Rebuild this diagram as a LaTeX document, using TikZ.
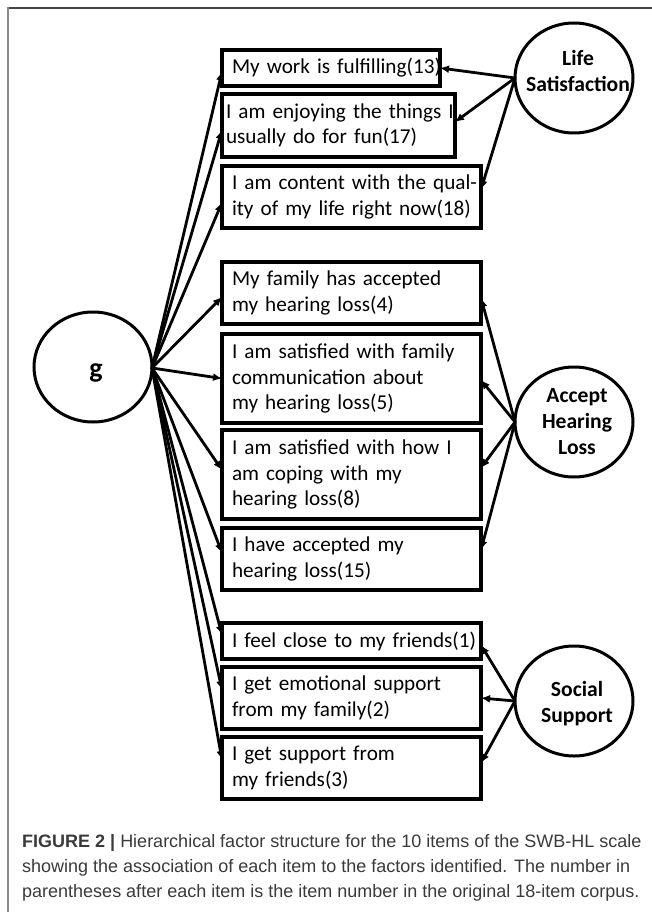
\documentclass[tikz,border=0pt]{standalone}
\usepackage{fontspec}
\setmainfont{Carlito}
\newfontfamily\capfont{Liberation Sans}
\usetikzlibrary{arrows.meta,shapes.geometric,calc}
\definecolor{capgray}{HTML}{3A3A3A}
\definecolor{framedark}{HTML}{444444}
\definecolor{framelight}{HTML}{8A8A8A}
\newcommand\itl[1]{\mbox{#1}}
\hbadness=10000
\hfuzz=300pt
\tikzset{
  itembox/.style={draw, rectangle, line width=3.1pt, anchor=north west, outer sep=0pt,
    inner xsep=10pt, inner ysep=0pt, align=left,
    font=\fontsize{21.2}{25.5}\selectfont},
  factor/.style={draw, ellipse, line width=3pt, minimum width=118pt, minimum height=110pt,
    inner sep=0pt, outer sep=0pt},
  factorlabel/.style={align=center, inner sep=0pt, font=\bfseries\fontsize{21.6}{26}\selectfont},
  arr/.style={line width=2.8pt, -{Latex[length=9pt,width=8pt]}},
  capline/.style={anchor=base west, inner sep=0pt, text=capgray,
    font=\capfont\fontsize{18}{25}\selectfont},
}
\begin{document}
\begin{tikzpicture}[x=1pt,y=-1pt]
\useasboundingbox (0,0) rectangle (652,912);
% frame
\draw[line width=1.5pt, framedark] (6.7,8.2) -- (652,8.2);
\draw[line width=2pt, framelight] (7.7,7.5) -- (7.7,912);

% item boxes (width = text width + 2 inner xsep)
\node[itembox, text width=198pt, minimum height=36pt] (b1) at (222,50) {\itl{My work is fulfilling(13)}};
\node[itembox, inner xsep=4pt, text width=225pt, minimum height=63pt] (b2) at (222,94) {\itl{I am enjoying the things I}\\\itl{usually do for fun(17)}};
\node[itembox, text width=239pt, minimum height=62pt] (b3) at (222,166) {\itl{I am content with the qual-}\\\itl{ity of my life right now(18)}};
\node[itembox, text width=239pt, minimum height=62pt] (b4) at (222,262) {\itl{My family has accepted}\\\itl{my hearing loss(4)}};
\node[itembox, text width=239pt, minimum height=89pt] (b5) at (222,334) {\itl{I am satisfied with family}\\\itl{communication about}\\\itl{my hearing loss(5)}};
\node[itembox, text width=239pt, minimum height=89pt] (b6) at (222,430) {\itl{I am satisfied with how I}\\\itl{am coping with my}\\\itl{hearing loss(8)}};
\node[itembox, text width=239pt, minimum height=62pt] (b7) at (222,528) {\itl{I have accepted my}\\\itl{hearing loss(15)}};
\node[itembox, text width=239pt, minimum height=36pt] (b8) at (222,623) {\itl{I feel close to my friends(1)}};
\node[itembox, text width=239pt, minimum height=62pt] (b9) at (222,667) {\itl{I get emotional support}\\\itl{from my family(2)}};
\node[itembox, text width=239pt, minimum height=62pt] (b10) at (222,737) {\itl{I get support from}\\\itl{my friends(3)}};

% factors
\node[factor] (g) at (93,367) {};
\node[inner sep=0pt, font=\bfseries\fontsize{28}{30}\selectfont] (gl) at (96,373) {g};
\node[factor] (ls) at (574,78) {};
\node[factorlabel] (lsl) at (578,71) {Life\\Satisfaction};
\node[factor] (ah) at (574,422) {};
\node[factorlabel] (ahl) at (577,422) {Accept\\Hearing\\Loss};
\node[factor] (ss) at (574,701) {};
\node[factorlabel] (ssl) at (577,704) {Social\\Support};

% general factor arrows
\coordinate (gsrc) at (152,368);
\draw[arr] (gsrc) -- ($(b1.west)+(0,3.5)$);
\draw[arr] (gsrc) -- ($(b2.west)+(0,4.5)$);
\draw[arr] (gsrc) -- ($(b3.west)+(0,5.5)$);
\draw[arr] (gsrc) -- ($(b4.west)+(0,4)$);
\draw[arr] (gsrc) -- ($(b5.west)+(0,0)$);
\draw[arr] (gsrc) -- ($(b6.west)+(0,-4.5)$);
\draw[arr] (gsrc) -- ($(b7.west)+(0,-6)$);
\draw[arr] (gsrc) -- ($(b8.west)+(0,-6)$);
\draw[arr] (gsrc) -- ($(b9.west)+(0,-8)$);
\draw[arr] (gsrc) -- ($(b10.west)+(0,-8)$);

% specific factor arrows
\draw[arr] (ls.west) -- ($(b1.east)+(0,0)$);
\draw[arr] (ls.west) -- ($(b2.east)+(0,-3.5)$);
\draw[arr] (ls.west) -- ($(b3.east)+(0,-7.5)$);
\draw[arr] (ah.west) -- ($(b4.east)+(0,5)$);
\draw[arr] (ah.west) -- ($(b5.east)+(0,1.5)$);
\draw[arr] (ah.west) -- ($(b6.east)+(0,-6.5)$);
\draw[arr] (ah.west) -- ($(b7.east)+(0,-9)$);
\draw[arr] (ss.west) -- ($(b8.east)+(0,4)$);
\draw[arr] (ss.west) -- ($(b9.east)+(0,0)$);
\draw[arr] (ss.west) -- ($(b10.east)+(0,-5)$);

% caption
\node[capline] (cap1) at (22,847) {\textbf{FIGURE 2 |} Hierarchical factor structure for the 10 items of the SWB-HL scale};
\node[capline] (cap2) at (22,872) {showing the association of each item to the factors identified. The number in};
\node[capline] (cap3) at (22,897) {parentheses after each item is the item number in the original 18-item corpus.};
\end{tikzpicture}
\end{document}
